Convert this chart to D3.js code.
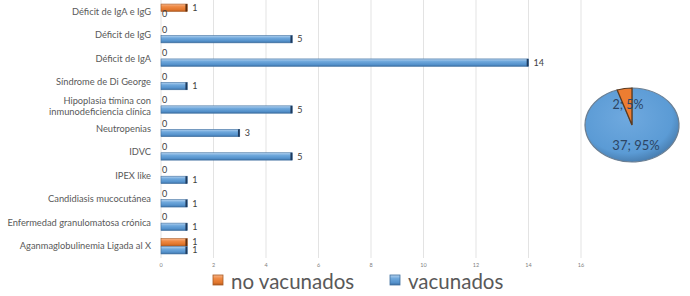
<!DOCTYPE html>
<html>
<head>
<meta charset="utf-8">
<script src="https://cdn.jsdelivr.net/npm/d3@7"></script>
<style>
  body { margin: 0; background: #fff; }
  svg { display: block; font-family: Lato, "Open Sans", sans-serif; }
</style>
</head>
<body>
<div class="chart"></div>
<script>
const WIDTH = 690
const HEIGHT = 296

// data, top to bottom as in the picture
const categorias = ["Déficit de IgA e IgG", "Déficit de IgG", "Déficit de IgA", "Síndrome de Di George",
  "Hipoplasia tímina con inmunodeficiencia clínica", "Neutropenias", "IDVC", "IPEX like",
  "Candidiasis mucocutánea", "Enfermedad granulomatosa crónica", "Aganmaglobulinemia Ligada al X"]
const noVacunados = [1, 0, 0, 0, 0, 0, 0, 0, 0, 0, 1]
const vacunados = [0, 5, 14, 1, 5, 3, 5, 1, 1, 1, 1]
const series = ["no vacunados", "vacunados"]
const ticks = [0, 2, 4, 6, 8, 10, 12, 14, 16]
const pieLabels = ["37; 95%", "2; 5%"]

const svg = d3.select("div.chart")
            .append("svg")
            .attr("width", WIDTH)
            .attr("height", HEIGHT);

// gradients
const defs = svg.append("defs");
function grad(id, stops) {
  let g = defs.append("linearGradient").attr("id", id)
            .attr("x1", 0).attr("y1", 0).attr("x2", 0).attr("y2", 1);
  stops.forEach(s => g.append("stop").attr("offset", s[0]).attr("stop-color", s[1]));
}
grad("gBlue", [[0, "#b4d2ef"], [0.35, "#6fa8dc"], [0.75, "#5592cc"], [1, "#3b6fa3"]]);
grad("gOrange", [[0, "#f7b488"], [0.35, "#ef8a45"], [0.75, "#e2762c"], [1, "#b35a1f"]]);

const x = d3.scaleLinear().domain([0, 16]).range([161, 581]);
const y = d3.scaleBand().domain(categorias).range([0, 258]).paddingInner(0.32).paddingOuter(0.16);
const ys = d3.scaleBand().domain(series).range([0, y.bandwidth()]);

// grid
svg.selectAll(".grid")
   .data(ticks)
   .enter()
   .append("line")
   .attr("x1", d => x(d)).attr("x2", d => x(d))
   .attr("y1", 0).attr("y2", 258)
   .style("stroke", "#e3e3e3")
   .style("stroke-width", 1);

// tick labels
svg.selectAll(".tick")
   .data(ticks)
   .enter()
   .append("text")
   .attr("x", d => x(d))
   .attr("y", 267)
   .attr("text-anchor", "middle")
   .style("font-size", "5.5px")
   .style("fill", "#7f7f7f")
   .text(d => d);

// category labels
categorias.forEach(c => {
  let t = svg.append("text")
             .attr("text-anchor", "end")
             .style("font-size", "9.3px")
             .style("fill", "#595959");
  let cy = y(c) + y.bandwidth() / 2;
  if (c.startsWith("Hipoplasia")) {
    t.append("tspan").attr("x", 151).attr("y", cy - 2).text("Hipoplasia tímina con");
    t.append("tspan").attr("x", 151).attr("y", cy + 9).text("inmunodeficiencia clínica");
  } else {
    t.attr("x", 151).attr("y", cy + 3).text(c);
  }
});

// bars
const rows = [];
categorias.forEach((c, i) => {
  rows.push({ cat: c, s: "no vacunados", v: noVacunados[i] });
  rows.push({ cat: c, s: "vacunados", v: vacunados[i] });
});

const bars = svg.selectAll(".bar")
   .data(rows)
   .enter()
   .append("g");

bars.filter(d => d.v > 0)
   .append("rect")
   .attr("x", x(0))
   .attr("y", d => y(d.cat) + ys(d.s) + 0.3)
   .attr("width", d => x(d.v) - x(0))
   .attr("height", ys.bandwidth() - 0.6)
   .style("fill", d => d.s == "vacunados" ? "url(#gBlue)" : "url(#gOrange)")
   .style("stroke", d => d.s == "vacunados" ? "#3f6f9f" : "#a85a24")
   .style("stroke-width", 0.6);

// dark end cap
bars.filter(d => d.v > 0)
   .append("rect")
   .attr("x", d => x(d.v) - 1.8)
   .attr("y", d => y(d.cat) + ys(d.s) + 0.3)
   .attr("width", 1.8)
   .attr("height", ys.bandwidth() - 0.6)
   .style("fill", d => d.s == "vacunados" ? "#1f3a5c" : "#5a2e10");

bars.append("text")
   .attr("x", d => x(d.v) + (d.v > 0 ? 5 : 1))
   .attr("y", d => y(d.cat) + ys(d.s) + ys.bandwidth() / 2 + (d.v > 0 ? 3.2 : 1.5))
   .style("font-size", "9px")
   .style("fill", "#404040")
   .text(d => d.v);

// legend
const legend = [{ s: "no vacunados", x: 213 }, { s: "vacunados", x: 390 }];
legend.forEach(l => {
  svg.append("rect")
     .attr("x", l.x).attr("y", 275)
     .attr("width", 10).attr("height", 10)
     .style("fill", l.s == "vacunados" ? "url(#gBlue)" : "url(#gOrange)")
     .style("stroke", l.s == "vacunados" ? "#3f6f9f" : "#a85a24")
     .style("stroke-width", 0.8);
  svg.append("text")
     .attr("x", l.x + 18).attr("y", 289)
     .style("font-size", "20.5px")
     .style("fill", "#595959")
     .text(l.s);
});

// pie
const cx = 632, cy = 125, rx = 47, ry = 37;
const pieData = d3.pie().sort(null)([d3.sum(vacunados), d3.sum(noVacunados)]);
const arc = d3.arc().innerRadius(0).outerRadius(rx);

const rg = defs.append("radialGradient").attr("id", "gPie").attr("cx", "45%").attr("cy", "40%").attr("r", "60%");
rg.append("stop").attr("offset", 0).attr("stop-color", "#6fa9df");
rg.append("stop").attr("offset", 0.8).attr("stop-color", "#5b9bd5");
rg.append("stop").attr("offset", 1).attr("stop-color", "#4a80b3");

const pie = svg.append("g")
   .attr("transform", `translate(${cx},${cy}) scale(1,${ry / rx})`);

pie.selectAll("path")
   .data(pieData)
   .enter()
   .append("path")
   .attr("d", arc)
   .style("fill", (d, i) => i == 0 ? "url(#gPie)" : "#ed7d31")
   .style("stroke", (d, i) => i == 0 ? "#6b7f93" : "#5a3a20")
   .style("stroke-width", 1.3);

svg.append("text")
   .attr("x", 628).attr("y", 109)
   .attr("text-anchor", "middle")
   .style("font-size", "12.5px")
   .style("fill", "#2c4564")
   .text(pieLabels[1]);

svg.append("text")
   .attr("x", 636).attr("y", 150)
   .attr("text-anchor", "middle")
   .style("font-size", "13px")
   .style("fill", "#2c4564")
   .text(pieLabels[0]);
</script>
</body>
</html>
